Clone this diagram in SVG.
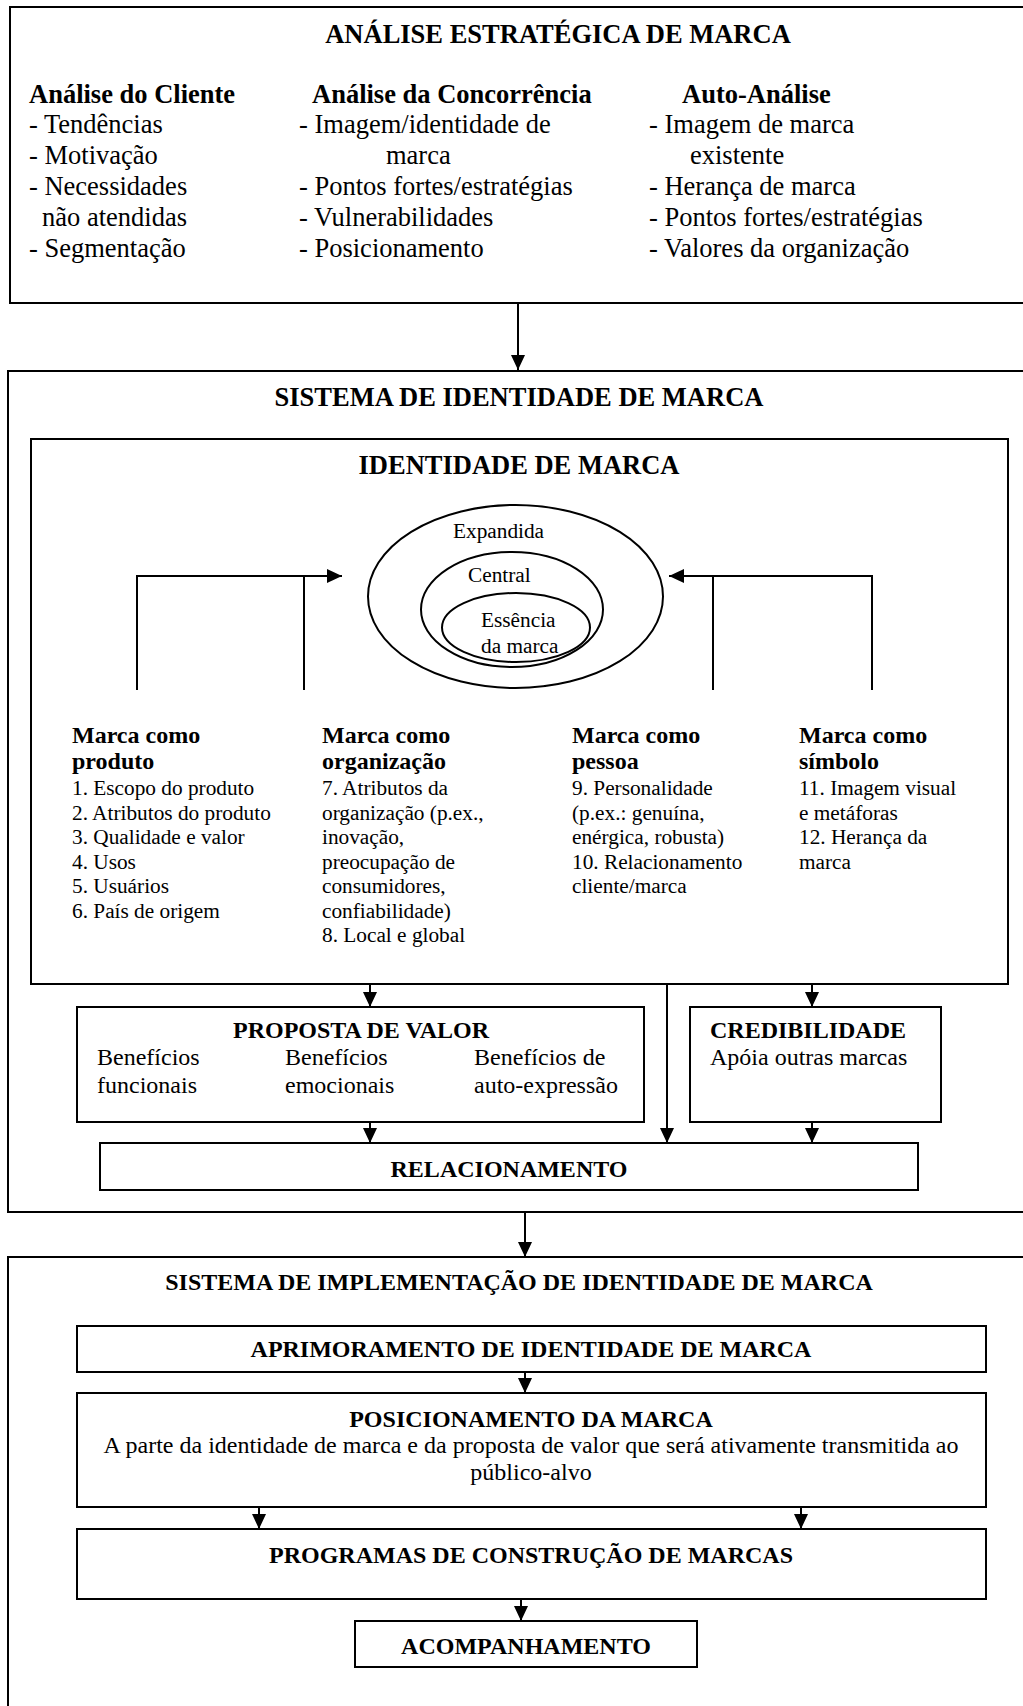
<svg xmlns="http://www.w3.org/2000/svg" width="1023" height="1706" viewBox="0 0 1023 1706">
<style>
text{font-family:"Liberation Serif","Times New Roman",serif;fill:#000}
.h26{font-size:26.5px;font-weight:bold}
.r26{font-size:26.5px}
.b24{font-size:24px;font-weight:bold}
.r24{font-size:24px}
.r21{font-size:21.3px}
.mid{text-anchor:middle}
.box{fill:none;stroke:#000;stroke-width:2}
.ln{fill:none;stroke:#000;stroke-width:2}
.ell{fill:none;stroke:#000;stroke-width:2}
</style>
<defs>
<marker id="ah" markerWidth="15" markerHeight="14" refX="15" refY="7" orient="auto" markerUnits="userSpaceOnUse">
<path d="M0,0 L15,7 L0,14 z" fill="#000"/>
</marker>
</defs>
<rect width="1023" height="1706" fill="#fff"/>

<g id="analise">
<rect class="box" x="10" y="7" width="1030" height="296"/>
<text class="h26 mid" x="558" y="43">ANÁLISE ESTRATÉGICA DE MARCA</text>
<text class="h26" x="29" y="103">Análise do Cliente</text>
<text class="r26" x="29" y="133">- Tendências</text>
<text class="r26" x="29" y="164">- Motivação</text>
<text class="r26" x="29" y="195">- Necessidades</text>
<text class="r26" x="42" y="226">não atendidas</text>
<text class="r26" x="29" y="257">- Segmentação</text>
<text class="h26" x="312" y="103">Análise da Concorrência</text>
<text class="r26" x="299" y="133">- Imagem/identidade de</text>
<text class="r26" x="386" y="164">marca</text>
<text class="r26" x="299" y="195">- Pontos fortes/estratégias</text>
<text class="r26" x="299" y="226">- Vulnerabilidades</text>
<text class="r26" x="299" y="257">- Posicionamento</text>
<text class="h26" x="682" y="103">Auto-Análise</text>
<text class="r26" x="649" y="133">- Imagem de marca</text>
<text class="r26" x="690" y="164">existente</text>
<text class="r26" x="649" y="195">- Herança de marca</text>
<text class="r26" x="649" y="226">- Pontos fortes/estratégias</text>
<text class="r26" x="649" y="257">- Valores da organização</text>
</g>

<g id="sistema-identidade">
<rect class="box" x="8" y="371" width="1030" height="841"/>
<text class="h26 mid" x="519" y="406">SISTEMA DE IDENTIDADE DE MARCA</text>
</g>

<g id="identidade">
<rect class="box" x="31" y="439" width="977" height="545"/>
<text class="h26 mid" x="519" y="474">IDENTIDADE DE MARCA</text>
</g>

<g id="circulos">
<ellipse class="ell" cx="515.5" cy="596.5" rx="147.5" ry="91.5"/>
<ellipse class="ell" cx="512" cy="609.5" rx="91" ry="57.5"/>
<ellipse class="ell" cx="516" cy="627.5" rx="74" ry="34.5"/>
<text class="r21" x="453" y="538">Expandida</text>
<text class="r21" x="468" y="582">Central</text>
<text class="r21" x="481" y="627">Essência</text>
<text class="r21" x="481" y="653">da marca</text>
</g>

<g id="marca-produto">
<text class="b24" x="72" y="743">Marca como</text>
<text class="b24" x="72" y="769">produto</text>
<text class="r21" x="72" y="795">1. Escopo do produto</text>
<text class="r21" x="72" y="819.5">2. Atributos do produto</text>
<text class="r21" x="72" y="844">3. Qualidade e valor</text>
<text class="r21" x="72" y="868.5">4. Usos</text>
<text class="r21" x="72" y="893">5. Usuários</text>
<text class="r21" x="72" y="917.5">6. País de origem</text>
</g>

<g id="marca-organizacao">
<text class="b24" x="322" y="743">Marca como</text>
<text class="b24" x="322" y="769">organização</text>
<text class="r21" x="322" y="795">7. Atributos da</text>
<text class="r21" x="322" y="819.5">organização (p.ex.,</text>
<text class="r21" x="322" y="844">inovação,</text>
<text class="r21" x="322" y="868.5">preocupação de</text>
<text class="r21" x="322" y="893">consumidores,</text>
<text class="r21" x="322" y="917.5">confiabilidade)</text>
<text class="r21" x="322" y="942">8. Local e global</text>
</g>

<g id="marca-pessoa">
<text class="b24" x="572" y="743">Marca como</text>
<text class="b24" x="572" y="769">pessoa</text>
<text class="r21" x="572" y="795">9. Personalidade</text>
<text class="r21" x="572" y="819.5">(p.ex.: genuína,</text>
<text class="r21" x="572" y="844">enérgica, robusta)</text>
<text class="r21" x="572" y="868.5">10. Relacionamento</text>
<text class="r21" x="572" y="893">cliente/marca</text>
</g>

<g id="marca-simbolo">
<text class="b24" x="799" y="743">Marca como</text>
<text class="b24" x="799" y="769">símbolo</text>
<text class="r21" x="799" y="795">11. Imagem visual</text>
<text class="r21" x="799" y="819.5">e metáforas</text>
<text class="r21" x="799" y="844">12. Herança da</text>
<text class="r21" x="799" y="868.5">marca</text>
</g>

<g id="proposta-valor">
<rect class="box" x="77" y="1007" width="567" height="115"/>
<text class="b24 mid" x="361" y="1038">PROPOSTA DE VALOR</text>
<text class="r24" x="97" y="1065">Benefícios</text>
<text class="r24" x="97" y="1093">funcionais</text>
<text class="r24" x="285" y="1065">Benefícios</text>
<text class="r24" x="285" y="1093">emocionais</text>
<text class="r24" x="474" y="1065">Benefícios de</text>
<text class="r24" x="474" y="1093">auto-expressão</text>
</g>

<g id="credibilidade">
<rect class="box" x="690" y="1007" width="251" height="115"/>
<text class="b24" x="710" y="1038">CREDIBILIDADE</text>
<text class="r24" x="710" y="1065">Apóia outras marcas</text>
</g>

<g id="relacionamento">
<rect class="box" x="100" y="1143" width="818" height="47"/>
<text class="b24 mid" x="509" y="1177">RELACIONAMENTO</text>
</g>

<g id="sistema-implementacao">
<rect class="box" x="8" y="1257" width="1030" height="470"/>
<text class="b24 mid" x="519" y="1290">SISTEMA DE IMPLEMENTAÇÃO DE IDENTIDADE DE MARCA</text>
</g>

<g id="aprimoramento">
<rect class="box" x="77" y="1326" width="909" height="46"/>
<text class="b24 mid" x="531" y="1357">APRIMORAMENTO DE IDENTIDADE DE MARCA</text>
</g>

<g id="posicionamento">
<rect class="box" x="77" y="1393" width="909" height="114"/>
<text class="b24 mid" x="531" y="1427">POSICIONAMENTO DA MARCA</text>
<text class="r24 mid" x="531" y="1453">A parte da identidade de marca e da proposta de valor que será ativamente transmitida ao</text>
<text class="r24 mid" x="531" y="1480">público-alvo</text>
</g>

<g id="programas">
<rect class="box" x="77" y="1529" width="909" height="70"/>
<text class="b24 mid" x="531" y="1563">PROGRAMAS DE CONSTRUÇÃO DE MARCAS</text>
</g>

<g id="acompanhamento">
<rect class="box" x="355" y="1621" width="342" height="46"/>
<text class="b24 mid" x="526" y="1654">ACOMPANHAMENTO</text>
</g>

<g id="connectors">
<line class="ln" x1="518" y1="303" x2="518" y2="370" marker-end="url(#ah)"/>
<polyline class="ln" points="137,690 137,576 342,576" stroke-width="2.5" marker-end="url(#ah)"/>
<line class="ln" x1="304" y1="576" x2="304" y2="690"/>
<polyline class="ln" points="872,690 872,576 669,576" stroke-width="2.5" marker-end="url(#ah)"/>
<line class="ln" x1="713" y1="576" x2="713" y2="690"/>
<line class="ln" x1="370" y1="984" x2="370" y2="1007" marker-end="url(#ah)"/>
<line class="ln" x1="812" y1="984" x2="812" y2="1007" marker-end="url(#ah)"/>
<line class="ln" x1="667" y1="984" x2="667" y2="1143" marker-end="url(#ah)"/>
<line class="ln" x1="370" y1="1122" x2="370" y2="1143" marker-end="url(#ah)"/>
<line class="ln" x1="812" y1="1122" x2="812" y2="1143" marker-end="url(#ah)"/>
<line class="ln" x1="525" y1="1212" x2="525" y2="1257" marker-end="url(#ah)"/>
<line class="ln" x1="525" y1="1372" x2="525" y2="1393" marker-end="url(#ah)"/>
<line class="ln" x1="259" y1="1507" x2="259" y2="1529" marker-end="url(#ah)"/>
<line class="ln" x1="801" y1="1507" x2="801" y2="1529" marker-end="url(#ah)"/>
<line class="ln" x1="521" y1="1599" x2="521" y2="1621" marker-end="url(#ah)"/>
</g>
</svg>
